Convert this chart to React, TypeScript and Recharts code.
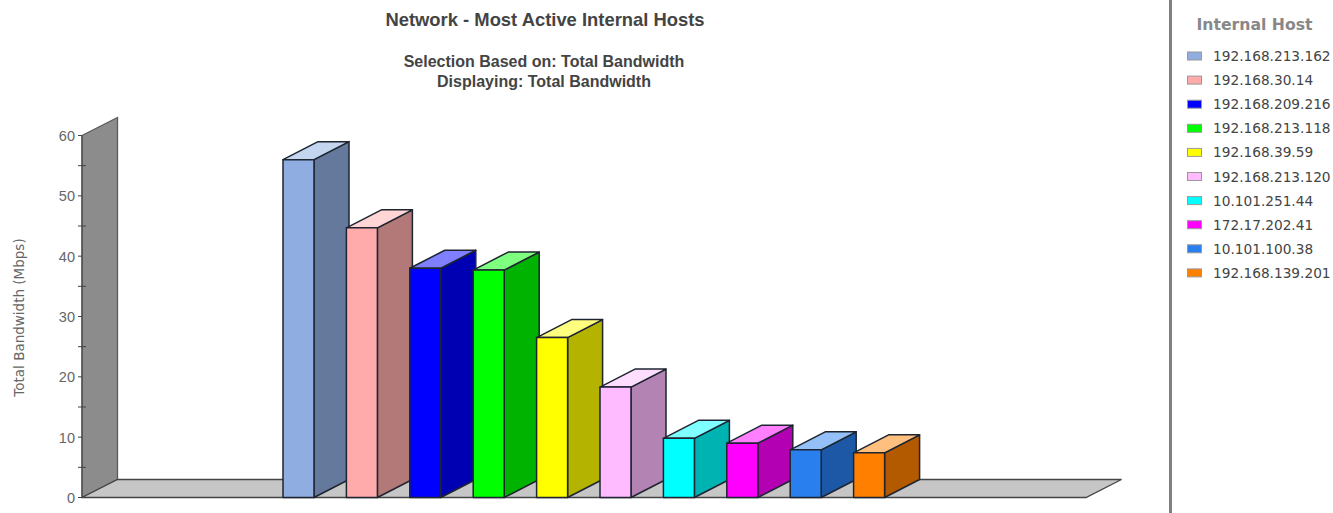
import React from 'react';
import { BarChart, Bar, XAxis, YAxis, ReferenceArea } from 'recharts';

const hosts = [
  '192.168.213.162', '192.168.30.14', '192.168.209.216', '192.168.213.118', '192.168.39.59',
  '192.168.213.120', '10.101.251.44', '172.17.202.41', '10.101.100.38', '192.168.139.201',
];
const bandwidth = [56, 44.7, 38.0, 37.7, 26.5, 18.3, 9.8, 9.0, 7.9, 7.4];
const frontColors = ['#8FADE0', '#FFABAB', '#0000FF', '#00FF00', '#FFFF00', '#FFBBFF', '#00FFFF', '#FF00FF', '#2A7FEE', '#FF8000'];
const sideColors = ['#65799D', '#B37878', '#0000B3', '#00B300', '#B3B300', '#B383B3', '#00B3B3', '#B300B3', '#1D58A7', '#B35900'];
const topColors = ['#C4D5F0', '#FFD5D5', '#7F7FFF', '#7FFF7F', '#FFFF7F', '#FFDDFF', '#7FFFFF', '#FF7FFF', '#95BFF7', '#FFBF7F'];
const yTicks = [0, 5, 10, 15, 20, 25, 30, 35, 40, 45, 50, 55, 60];

const data = hosts.map((host, i) => ({ host, value: bandwidth[i] }));

const DEPTH_X = 35;
const DEPTH_Y = 18;
const AXIS_PAD = 185;
const FONT = '"DejaVu Sans", sans-serif';
const TITLE_FONT = '"Liberation Sans", Arial, sans-serif';

// wall and floor of the fake 3d box, the area's x range is inside the axis padding
const Backdrop = (props: any) => {
  const { y, height } = props;
  const x = props.x - AXIS_PAD;
  const width = props.width + AXIS_PAD * 2;
  const bottom = y + height;
  const depthX = DEPTH_X + 0.5;
  return (
    <g strokeWidth={1.3}>
      <polygon
        points={`${x},${y} ${x + depthX},${y - DEPTH_Y} ${x + depthX},${bottom - DEPTH_Y} ${x},${bottom}`}
        fill="#8C8C8C"
        stroke="#5A5A5A"
      />
      <polygon
        points={`${x},${bottom} ${x + depthX},${bottom - DEPTH_Y} ${x + width + depthX},${bottom - DEPTH_Y} ${x + width},${bottom}`}
        fill="#C6C6C6"
        stroke="#444"
      />
    </g>
  );
};

const Bar3D = (props: any) => {
  const { x, y, width, height, index } = props;
  const r = x + width;
  const b = y + height;
  return (
    <g stroke="#1E2530" strokeWidth={1.5} strokeLinejoin="round">
      <polygon points={`${r},${y} ${r + DEPTH_X},${y - DEPTH_Y} ${r + DEPTH_X},${b - DEPTH_Y} ${r},${b}`} fill={sideColors[index]} />
      <polygon points={`${x},${y} ${x + DEPTH_X},${y - DEPTH_Y} ${r + DEPTH_X},${y - DEPTH_Y} ${r},${y}`} fill={topColors[index]} />
      <rect x={x} y={y} width={width} height={height} fill={frontColors[index]} />
    </g>
  );
};

const YTick = (props: any) => {
  const { y, payload } = props;
  const major = payload.value % 10 === 0;
  return (
    <g>
      <line x1={78} x2={major ? 82 : 86} y1={y} y2={y} stroke="#444" />
      {major && (
        <text x={75} y={y + 5.5} textAnchor="end" fontFamily={TITLE_FONT} fontSize={14.5} fill="#666">
          {payload.value}
        </text>
      )}
    </g>
  );
};

const HostLegend = () => (
  <g>
    <rect x={1169} y={0} width={3} height={513} fill="#808080" />
    <text x={1254.5} y={30} textAnchor="middle" fontFamily={FONT} fontSize={15.7} fontWeight={600} fill="#888">
      Internal Host
    </text>
    {hosts.map((host, i) => (
      <g key={host}>
        <rect x={1187.5} y={52 + i * 24.1} width={14} height={8} fill={frontColors[i]} stroke="#999" />
        <text x={1213} y={61 + i * 24.1} fontFamily={FONT} fontSize={13.7} fill="#444">
          {host}
        </text>
      </g>
    ))}
  </g>
);

export default function App() {
  return (
    <div style={{ position: 'absolute', left: 0, top: 0, width: 1333, height: 513, background: '#fff' }}>
      <BarChart
        width={1333}
        height={513}
        data={data}
        margin={{ top: 135.5, right: 247, bottom: 15.5, left: 0 }}
        barSize={31}
      >
        <text x={545} y={26} textAnchor="middle" fontFamily={TITLE_FONT} fontSize={18.4} fontWeight={700} fill="#444">
          Network - Most Active Internal Hosts
        </text>
        <text x={544} y={67} textAnchor="middle" fontFamily={TITLE_FONT} fontSize={16} fontWeight={700} fill="#444">
          Selection Based on: Total Bandwidth
        </text>
        <text x={544} y={87} textAnchor="middle" fontFamily={TITLE_FONT} fontSize={16} fontWeight={700} fill="#444">
          Displaying: Total Bandwidth
        </text>
        <text
          x={24}
          y={317.5}
          transform="rotate(-90 24 317.5)"
          textAnchor="middle"
          fontFamily={FONT}
          fontSize={13.5}
          fill="#666"
        >
          Total Bandwidth (Mbps)
        </text>
        <XAxis dataKey="host" hide padding={{ left: AXIS_PAD, right: AXIS_PAD }} />
        <YAxis
          width={82}
          domain={[0, 60]}
          ticks={yTicks}
          interval={0}
          tick={YTick}
          tickLine={false}
          axisLine={{ stroke: '#444' }}
        />
        <ReferenceArea y1={0} y2={60} shape={Backdrop} ifOverflow="visible" />
        <Bar dataKey="value" shape={Bar3D} isAnimationActive={false} />
        <HostLegend />
      </BarChart>
    </div>
  );
}
